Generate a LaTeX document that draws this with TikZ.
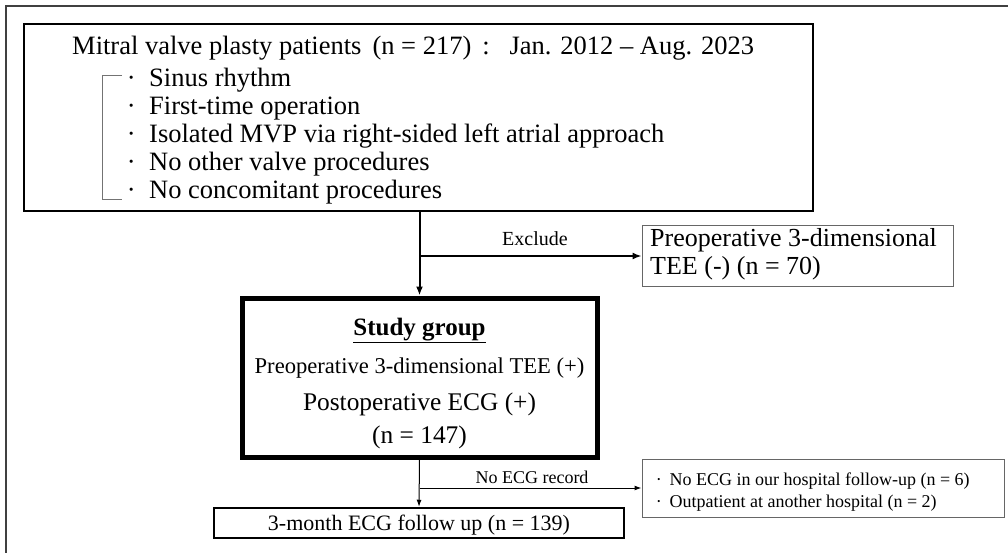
\documentclass[tikz,border=0pt]{standalone}
\usepackage{fontspec}
\setmainfont{Liberation Serif}
\usetikzlibrary{arrows.meta}
\begin{document}
\begin{tikzpicture}[x=1pt,y=-1pt,
  fsz/.style={font=\fontsize{#1}{#1}\selectfont},
  txt/.style={inner sep=0pt, anchor=base west},
  ctxt/.style={inner sep=0pt, anchor=base},
  box/.style={draw, inner sep=0pt, rectangle},
  graybox/.style={box, draw=black!60, line width=1pt},
  bigtip/.style={-{Latex[length=9pt,width=7pt]}},
  smalltip/.style={-{Latex[length=7pt,width=5pt]}},
  ]
\useasboundingbox (0,0) rectangle (1008,553);
% outer frame (open at right and bottom)
\draw[line width=2pt, black!75] (1008,6) -- (6,6) -- (6,553);

% top box
\node[box, line width=2pt, minimum width=789pt, minimum height=187pt] (top) at (418.5,117.5) {};
\node[txt, fsz=26.5] (title) at (72,55) {Mitral valve plasty patients\ \,(n = 217)\,\ :\ \ \ Jan. 2012 – Aug. 2023};
\draw[black!55, line width=1pt] (122,76) -- (102,76) -- (102,200) -- (122,200);
\node[txt, fsz=26.5] (b1) at (126.7,87)  {·\hspace{13.5pt}Sinus rhythm};
\node[txt, fsz=26.5] (b2) at (126.7,115) {·\hspace{13.5pt}First-time operation};
\node[txt, fsz=26.5] (b3) at (126.7,143) {·\hspace{13.5pt}Isolated MVP via right-sided left atrial approach};
\node[txt, fsz=26.5] (b4) at (126.7,171) {·\hspace{13.5pt}No other valve procedures};
\node[txt, fsz=26.5] (b5) at (126.7,199) {·\hspace{13.5pt}No concomitant procedures};

% exclude box
\node[graybox, minimum width=311pt, minimum height=60pt] (excl) at (797.5,256) {};
\node[txt, fsz=26] (e1) at (650,247) {Preoperative 3-dimensional};
\node[txt, fsz=26] (e2) at (650,274) {TEE (-)\ (n = 70)};

% study box
\node[box, line width=5pt, minimum width=355pt, minimum height=159pt] (study) at (419.5,377.5) {};
\node[ctxt, fsz=25] (s1) at (419.5,335) {\textbf{\underline{Study group}}};
\node[ctxt, fsz=22.6] (s2) at (419.5,373) {Preoperative 3-dimensional TEE (+)};
\node[ctxt, fsz=25.4] (s3) at (419.5,410) {Postoperative ECG (+)};
\node[ctxt, fsz=25.4] (s4) at (419.5,443) {(n = 147)};

% connectors upper
\draw[line width=2pt, bigtip] (top.south -| study.north) -- (study.north);
\coordinate (br1) at (419.5,256);
\draw[line width=1.5pt, bigtip] (br1) -- (excl.west);
\node[ctxt, fsz=20] (exlbl) at (535,245) {Exclude};

% bottom box
\node[box, line width=2.5pt, minimum width=410pt, minimum height=30pt] (bottom) at (419,523) {};
\node[ctxt, fsz=22] (bt) at (419,530) {3-month ECG follow up\ (n = 139)};

% right box
\node[graybox, minimum width=362pt, minimum height=58pt] (rbox) at (823,488) {};
\node[txt, fsz=18] (r1) at (655.7,485) {·\hspace{7.7pt}No ECG in our hospital follow-up (n = 6)};
\node[txt, fsz=18] (r2) at (655.7,507) {·\hspace{7.7pt}Outpatient at another hospital (n = 2)};

% connectors lower
\draw[line width=1pt, smalltip] (study.south) -- (bottom.north);
\coordinate (br2) at (419.5,488);
\draw[line width=1pt, smalltip] (br2) -- (rbox.west);
\node[ctxt, fsz=18] (nolbl) at (532,483) {No ECG record};
\end{tikzpicture}
\end{document}
